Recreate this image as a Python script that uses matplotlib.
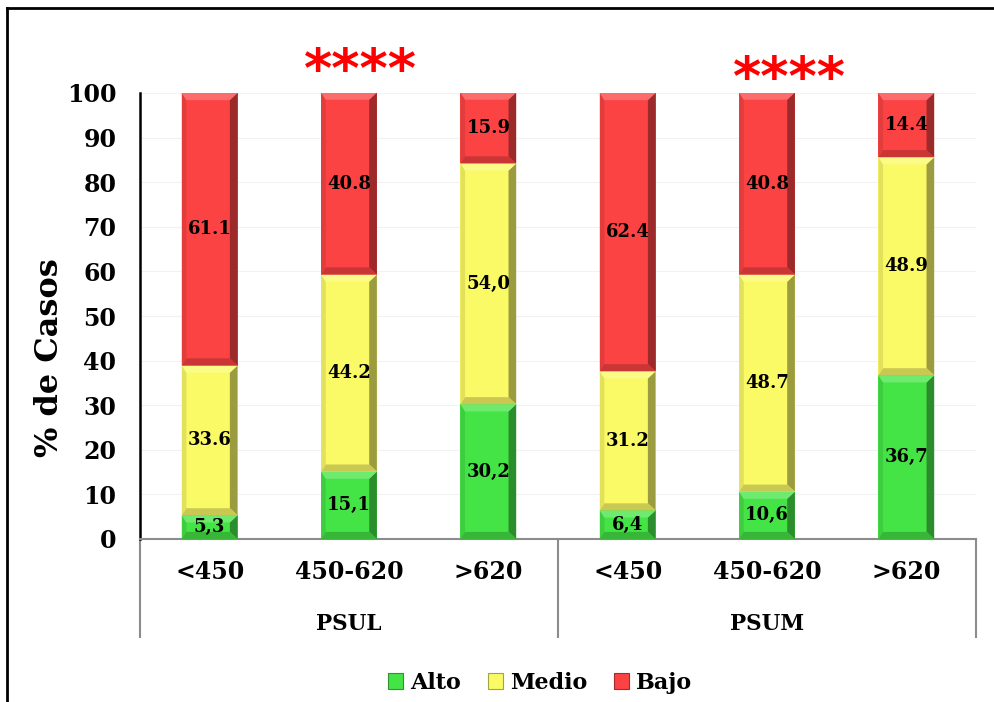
import matplotlib
matplotlib.use("Agg")
import matplotlib.pyplot as plt
from matplotlib.patches import Polygon, Patch
from matplotlib.lines import Line2D
import numpy as np

# ---- data ----
groups = ["PSUL", "PSUM"]
ranges = ["<450", "450-620", ">620"]
alto = [5.3, 15.1, 30.2, 6.4, 10.6, 36.7]
medio = [33.6, 44.2, 54.0, 31.2, 48.7, 48.9]
bajo = [61.1, 40.8, 15.9, 62.4, 40.8, 14.4]
# decimal separator used in each printed label
alto_sep = [",", ",", ",", ",", ",", ","]
medio_sep = [".", ".", ",", ".", ".", "."]
bajo_sep = [".", ".", ".", ".", ".", "."]
series_names = ["Alto", "Medio", "Bajo"]
yticks = [0, 10, 20, 30, 40, 50, 60, 70, 80, 90, 100]
star_text = "****"

colors = {"Alto": "#45E446", "Medio": "#FAFA66", "Bajo": "#FC4343"}

FONT = "DejaVu Serif"
W, H = 994, 702
fig = plt.figure(figsize=(W / 100, H / 100), dpi=100)
ax = fig.add_axes([140 / W, 1 - 539 / H, (976 - 140) / W, (539 - 93) / H])

x = np.arange(len(alto))
bw = 0.40


def shade(c, f):
    c = np.array(matplotlib.colors.to_rgb(c))
    if f >= 0:
        return tuple(c + (1 - c) * f)
    return tuple(c * (1 + f))


def bevel_bar(xc, y0, h, color):
    x0, x1 = xc - bw / 2, xc + bw / 2
    y1 = y0 + h
    ax.bar(xc, h, bw, bottom=y0, color=color, linewidth=0, zorder=2)
    dx = 0.055
    dy = min(1.6, h / 3)
    # right side (dark)
    ax.add_patch(Polygon([(x1 - dx, y0 + dy), (x1 - dx, y1 - dy), (x1, y1), (x1, y0)],
                         closed=True, facecolor=shade(color, -0.38), lw=0, zorder=3))
    # left side (slightly darker)
    ax.add_patch(Polygon([(x0, y0), (x0, y1), (x0 + dx * 0.6, y1 - dy), (x0 + dx * 0.6, y0 + dy)],
                         closed=True, facecolor=shade(color, -0.10), lw=0, zorder=3))
    # top bevel (light)
    ax.add_patch(Polygon([(x0, y1), (x1, y1), (x1 - dx, y1 - dy), (x0 + dx * 0.6, y1 - dy)],
                         closed=True, facecolor=shade(color, 0.22), lw=0, zorder=3))
    # bottom bevel (dark)
    ax.add_patch(Polygon([(x0, y0), (x1, y0), (x1 - dx, y0 + dy), (x0 + dx * 0.6, y0 + dy)],
                         closed=True, facecolor=shade(color, -0.20), lw=0, zorder=3))


bottoms = np.zeros(len(alto))
for name, vals, seps in [("Alto", alto, alto_sep), ("Medio", medio, medio_sep), ("Bajo", bajo, bajo_sep)]:
    for i, v in enumerate(vals):
        bevel_bar(x[i], bottoms[i], v, colors[name])
        lbl = f"{v:.1f}".replace(".", seps[i])
        ax.text(x[i], bottoms[i] + v / 2, lbl, ha="center", va="center",
                fontsize=13, fontweight="bold", family=FONT, zorder=5)
    bottoms += np.array(vals)

ax.set_xlim(-0.5, len(alto) - 0.5)
ax.set_ylim(0, 100)
ax.set_yticks(yticks)
ax.set_yticklabels([str(t) for t in yticks], fontsize=17, fontweight="bold", family=FONT)
ax.tick_params(axis="y", length=0, pad=17)
ax.set_xticks([])
for t in yticks[1:]:
    ax.axhline(t, color="#F2F2F2", lw=0.8, zorder=0)

for s in ["top", "right"]:
    ax.spines[s].set_visible(False)
ax.spines["left"].set_color("black")
ax.spines["left"].set_linewidth(1.8)
ax.spines["bottom"].set_color("#8C8C8C")
ax.spines["bottom"].set_linewidth(1.5)

fig.text(50 / W, 1 - 358 / H, "% de Casos", rotation=90, ha="center", va="center",
         fontsize=23, fontweight="bold", family=FONT)

# category axis (two levels)
trans = ax.get_xaxis_transform()
to_ax = lambda py: (539 - py) / (539 - 93)
for i in x:
    ax.text(i, to_ax(572), ranges[i % 3], ha="center", va="center", transform=trans,
            fontsize=17, fontweight="bold", family=FONT, clip_on=False)
for g, name in enumerate(groups):
    ax.text(g * 3 + 1, to_ax(624), name, ha="center", va="center", transform=trans,
            fontsize=15.5, fontweight="bold", family=FONT, clip_on=False)
for xs in [-0.5, 2.5, 5.5]:
    ax.add_line(Line2D([xs, xs], [0, to_ax(637)], transform=trans, color="#8C8C8C",
                       lw=1.5, clip_on=False, zorder=1))

# significance marks
ax.text(1.08, 104.7, star_text, ha="center", va="center", color="#FF0000",
        fontsize=39, fontweight="bold", family="DejaVu Sans", clip_on=False)
ax.text(4.16, 102.9, star_text, ha="center", va="center", color="#FF0000",
        fontsize=39, fontweight="bold", family="DejaVu Sans", clip_on=False)

# legend
handles = [Patch(facecolor=colors[n], edgecolor=shade(colors[n], -0.35), lw=0.8) for n in series_names]
fig.legend(handles, series_names, loc="center", bbox_to_anchor=(540 / W, 1 - 683 / H), ncol=3,
           frameon=False, prop={"family": FONT, "weight": "bold", "size": 16},
           handlelength=0.7, handleheight=0.7, handletextpad=0.3, columnspacing=1.2)

# outer frame edges
fig.add_artist(Line2D([7 / W, 1.0], [1 - 8 / H, 1 - 8 / H], color="black", lw=2))
fig.add_artist(Line2D([7 / W, 7 / W], [0, 1 - 8 / H], color="black", lw=2))

fig.savefig("out.png", dpi=100)
